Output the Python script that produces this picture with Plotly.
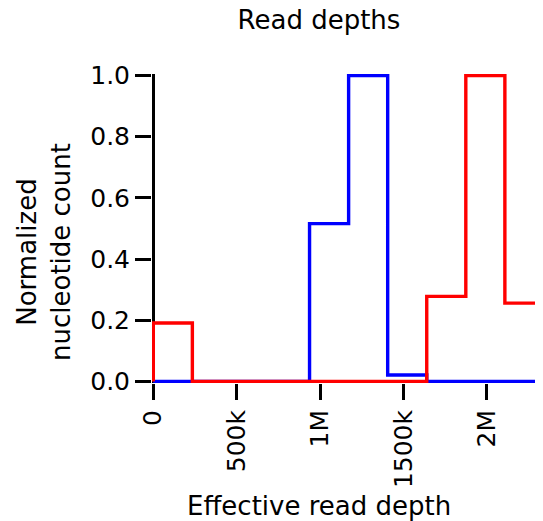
import plotly.graph_objects as go

# ---- data ----
bin_edges = [0, 234200, 468400, 702600, 936800, 1171000, 1405200, 1639400, 1873600, 2107800, 2342000]
blue_counts = [0, 0, 0, 0, 0.516, 1.0, 0.021, 0, 0, 0]
red_counts = [0.191, 0, 0, 0, 0, 0, 0, 0.278, 1.0, 0.256]
x_tick_vals = [0, 500000, 1000000, 1500000, 2000000]
x_tick_text = ["0", "500k", "1M", "1500k", "2M"]
y_tick_vals = [0.0, 0.2, 0.4, 0.6, 0.8, 1.0]
y_tick_text = ["0.0", "0.2", "0.4", "0.6", "0.8", "1.0"]
title_text = "Read depths"
x_title = "Effective read depth"
y_title = "Normalized<br>nucleotide count"


def step_path(edges, counts):
    xs, ys = [edges[0]], [0]
    for i, c in enumerate(counts):
        xs += [edges[i], edges[i + 1]]
        ys += [c, c]
    xs.append(edges[-1])
    ys.append(0)
    return xs, ys


FONT = "DejaVu Sans"
OFF = 8  # default page body margin
W, H = 543 - OFF, 521 - OFF
# plot area in window pixels: left 152, right 543, top 74, bottom 383
PL, PR, PT, PB = 152, 543, 74, 383
ML, MR, MT, MB = PL - OFF, 543 - PR, PT - OFF, 521 - PB
PW, PH = PR - PL, PB - PT

fig = go.Figure()
for counts, color in [(blue_counts, "#0000ff"), (red_counts, "#ff0000")]:
    xs, ys = step_path(bin_edges, counts)
    fig.add_trace(go.Scatter(x=xs, y=ys, mode="lines",
                             line=dict(color=color, width=3.4),
                             hoverinfo="skip", showlegend=False))

xpad, xmax = 7800, 2336400
ypad = 0.005

fig.update_layout(
    width=W, height=H,
    margin=dict(l=ML, r=MR, t=MT, b=MB, pad=0),
    paper_bgcolor="white", plot_bgcolor="white",
    font=dict(family=FONT, color="black", size=25),
    title=dict(text=title_text, font=dict(size=26, family=FONT, color="black"),
               xref="container", yref="container",
               x=(319 - OFF) / W, y=1 - (20 - OFF) / H, xanchor="center", yanchor="middle"),
    xaxis=dict(range=[-xpad, xmax], showgrid=False, showline=False,
               zeroline=True, zerolinecolor="black", zerolinewidth=3,
               tickmode="array", tickvals=x_tick_vals, ticktext=x_tick_text,
               ticks="outside", ticklen=16, tickwidth=3, tickcolor="black",
               tickangle=-90, tickfont=dict(size=25, family=FONT, color="black")),
    yaxis=dict(range=[-ypad, 1 + ypad], showgrid=False, showline=False,
               zeroline=True, zerolinecolor="black", zerolinewidth=3,
               tickmode="array", tickvals=y_tick_vals, ticktext=y_tick_text,
               ticks="outside", ticklen=16, tickwidth=3, tickcolor="black",
               tickfont=dict(size=25, family=FONT, color="black")),
    annotations=[
        dict(text=x_title, xref="paper", yref="paper",
             x=(319 - PL) / PW, y=(PB - 506) / PH,
             xanchor="center", yanchor="middle", showarrow=False,
             font=dict(size=26, family=FONT, color="black")),
        dict(text=y_title, xref="paper", yref="paper",
             x=(44 - PL) / PW, y=(PB - 252) / PH, textangle=-90,
             xanchor="center", yanchor="middle", showarrow=False,
             font=dict(size=26, family=FONT, color="black")),
    ],
)

fig.write_html("out.html")
